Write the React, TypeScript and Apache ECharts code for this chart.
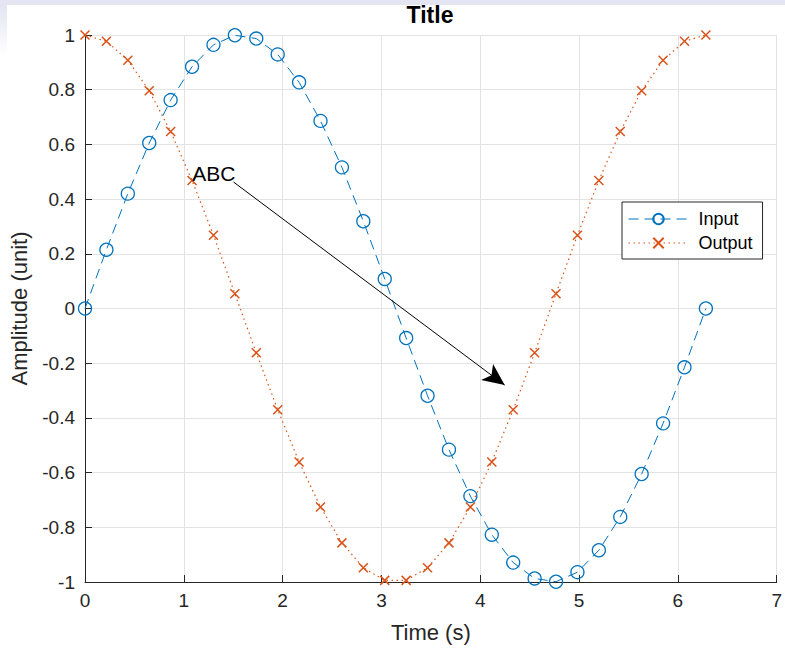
import React, { useEffect, useRef } from "react";
import * as echarts from "echarts";

const timeValues = [
  0, 0.2167, 0.4333, 0.65, 0.8666, 1.0833, 1.3, 1.5166, 1.7333, 1.95,
  2.1666, 2.3833, 2.6, 2.8166, 3.0333, 3.25, 3.4666, 3.6833, 3.9, 4.1166,
  4.3333, 4.55, 4.7666, 4.9833, 5.2, 5.4166, 5.6333, 5.85, 6.0666, 6.2832,
];
const inputValues = [
  0, 0.215, 0.42, 0.605, 0.762, 0.884, 0.964, 0.999, 0.987, 0.929,
  0.827, 0.686, 0.516, 0.319, 0.108, -0.108, -0.319, -0.516, -0.686, -0.827,
  -0.929, -0.987, -0.999, -0.964, -0.884, -0.762, -0.605, -0.42, -0.215, 0,
];
const outputValues = [
  1, 0.977, 0.908, 0.796, 0.647, 0.468, 0.268, 0.054, -0.162, -0.37,
  -0.561, -0.726, -0.857, -0.948, -0.994, -0.994, -0.948, -0.857, -0.726, -0.561,
  -0.37, -0.162, 0.054, 0.268, 0.468, 0.647, 0.796, 0.908, 0.977, 1,
];
const seriesNames = ["Input", "Output"];
const titleText = "Title";
const annotationText = "ABC";
const arrowStart = [1.503, 0.4625];
const arrowEnd = [4.247, -0.28];
const textAnchor = [1.085, 0.495];

const FONT = "'Liberation Sans', Arial, Helvetica, sans-serif";
const TXT = "#262626";
const BLUE = "#0072BD";
const ORANGE = "#D95319";

export default function App() {
  const ref = useRef<HTMLDivElement>(null);
  useEffect(() => {
    if (!ref.current) return;
    const chart = echarts.init(ref.current, null, { renderer: "svg" });
    const inputData = timeValues.map((t, i) => [t, inputValues[i]]);
    const outputData = timeValues.map((t, i) => [t, outputValues[i]]);
    chart.setOption({
      animation: false,
      backgroundColor: "#ffffff",
      textStyle: { fontFamily: FONT },
      graphic: [
        { type: "rect", left: 0, top: 0, shape: { width: 785, height: 5 }, style: { fill: "#e4e4f3" }, silent: true },
        {
          type: "rect", left: 0, top: 5, shape: { width: 7, height: 50 },
          style: {
            fill: new echarts.graphic.LinearGradient(0, 0, 0, 1, [
              { offset: 0, color: "#e4e4f3" },
              { offset: 1, color: "#ffffff" },
            ]),
          },
          silent: true,
        },
        {
          type: "text",
          x: 430,
          y: 15,
          silent: true,
          style: {
            text: titleText,
            textAlign: "center",
            textVerticalAlign: "middle",
            fontFamily: FONT,
            fontWeight: "bold",
            fontSize: 23,
            fill: "#000",
          },
        },
      ],
      grid: { left: 84, right: 7, top: 35, bottom: 68, containLabel: false },
      legend: {
        data: seriesNames,
        orient: "vertical",
        left: 622,
        top: 202,
        padding: [8, 10, 7, 6],
        itemGap: 6,
        itemWidth: 60,
        itemHeight: 13,
        backgroundColor: "#ffffff",
        borderColor: TXT,
        borderWidth: 1,
        borderRadius: 0,
        lineStyle: { width: 1 },
        textStyle: { fontFamily: FONT, fontSize: 18, color: "#000", padding: [0, 0, 0, 5] },
      },
      xAxis: {
        type: "value",
        min: 0,
        max: 7,
        interval: 1,
        name: "Time (s)",
        nameLocation: "middle",
        nameGap: 39,
        nameTextStyle: { fontFamily: FONT, fontSize: 22, color: TXT },
        axisLine: { show: true, onZero: false, lineStyle: { color: TXT, width: 1 } },
        axisTick: { show: true, inside: true, length: 7, lineStyle: { color: TXT } },
        axisLabel: { fontFamily: FONT, fontSize: 19, color: TXT, margin: 9 },
        splitLine: { show: true, lineStyle: { color: "#e3e3e3", width: 1 } },
      },
      yAxis: {
        type: "value",
        min: -1,
        max: 1,
        interval: 0.2,
        name: "Amplitude (unit)",
        nameLocation: "middle",
        nameGap: 55,
        nameTextStyle: { fontFamily: FONT, fontSize: 22, color: TXT },
        axisLine: { show: true, onZero: false, lineStyle: { color: TXT, width: 1 } },
        axisTick: { show: true, inside: true, length: 7, lineStyle: { color: TXT } },
        axisLabel: {
          fontFamily: FONT, fontSize: 19, color: TXT, margin: 10,
          formatter: (v: number) => String(Math.round(v * 10) / 10),
        },
        splitLine: { show: true, lineStyle: { color: "#e3e3e3", width: 1 } },
      },
      series: [
        {
          name: seriesNames[0],
          type: "line",
          data: inputData,
          symbol: "circle",
          symbolSize: 13,
          showAllSymbol: true,
          itemStyle: { color: "rgba(0,0,0,0)", borderColor: BLUE, borderWidth: 1.3 },
          lineStyle: { color: BLUE, width: 1, type: [10, 6] },
          emphasis: { disabled: true },
          z: 3,
        },
        {
          name: seriesNames[1],
          type: "line",
          data: outputData,
          symbol: "path://M0,0L10,10M0,10L10,0",
          symbolSize: 9,
          showAllSymbol: true,
          itemStyle: { color: "rgba(0,0,0,0)", borderColor: ORANGE, borderWidth: 1.5 },
          lineStyle: { color: ORANGE, width: 1.2, type: [1.5, 3.5] },
          emphasis: { disabled: true },
          z: 2,
          markLine: {
            silent: true,
            symbol: ["none", "arrow"],
            symbolSize: [15, 22],
            label: { show: false },
            lineStyle: { color: "#000", width: 1, type: "solid" },
            emphasis: { disabled: true },
            data: [[{ coord: arrowStart }, { coord: arrowEnd }]],
          },
          markPoint: {
            silent: true,
            symbol: "circle",
            symbolSize: 0,
            label: {
              show: true,
              position: "right",
              distance: 0,
              formatter: annotationText,
              fontFamily: FONT,
              fontSize: 21,
              color: "#000",
            },
            data: [{ coord: textAnchor }],
          },
        },
      ],
    });
    return () => chart.dispose();
  }, []);
  return (
    <div
      ref={ref}
      style={{ position: "absolute", left: 0, top: 0, width: 785, height: 650 }}
    />
  );
}
